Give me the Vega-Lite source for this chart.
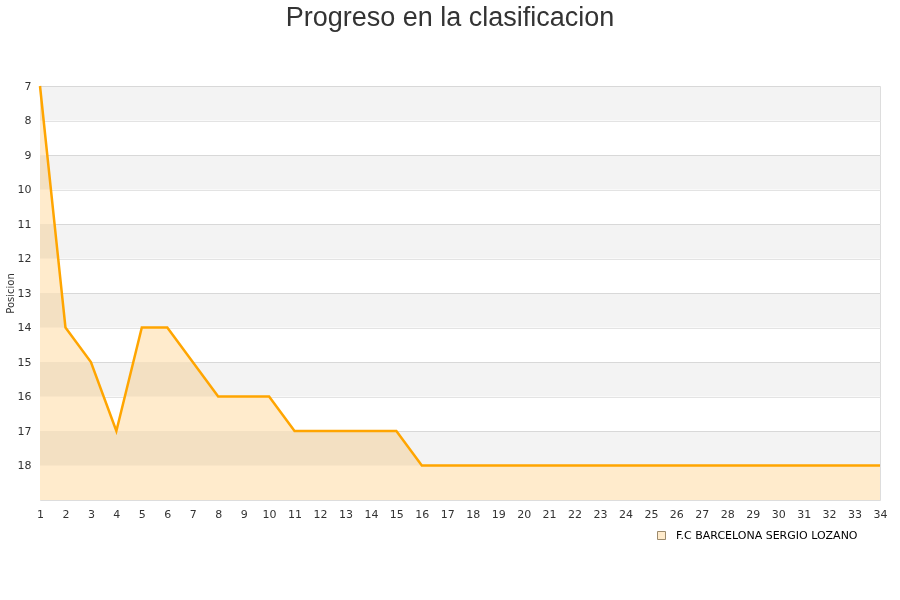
{
  "$schema": "https://vega.github.io/schema/vega-lite/v6.json",
  "autosize": "none",
  "width": 840,
  "height": 414,
  "padding": {"left": 40, "top": 86, "right": 20, "bottom": 100},
  "title": {
    "text": "Progreso en la clasificacion",
    "anchor": "middle",
    "font": "Liberation Sans",
    "fontSize": 27,
    "fontWeight": "normal",
    "color": "#333333",
    "offset": 48,
    "dx": -10
  },
  "config": {
    "view": {"stroke": "#dddddd"},
    "axis": {
      "labelFont": "DejaVu Sans",
      "labelFontSize": 11,
      "labelColor": "#333333",
      "titleFont": "DejaVu Sans",
      "titleFontWeight": "normal",
      "titleColor": "#333333",
      "ticks": false,
      "domain": false,
      "zindex": 1
    }
  },
  "datasets": {
    "bands": [
      {"desde": 7, "hasta": 8},
      {"desde": 9, "hasta": 10},
      {"desde": 11, "hasta": 12},
      {"desde": 13, "hasta": 14},
      {"desde": 15, "hasta": 16},
      {"desde": 17, "hasta": 18}
    ],
    "jornadas": [
      {"jornada": 1, "posicion": 7, "equipo": "F.C BARCELONA SERGIO LOZANO"},
      {"jornada": 2, "posicion": 14, "equipo": "F.C BARCELONA SERGIO LOZANO"},
      {"jornada": 3, "posicion": 15, "equipo": "F.C BARCELONA SERGIO LOZANO"},
      {"jornada": 4, "posicion": 17, "equipo": "F.C BARCELONA SERGIO LOZANO"},
      {"jornada": 5, "posicion": 14, "equipo": "F.C BARCELONA SERGIO LOZANO"},
      {"jornada": 6, "posicion": 14, "equipo": "F.C BARCELONA SERGIO LOZANO"},
      {"jornada": 7, "posicion": 15, "equipo": "F.C BARCELONA SERGIO LOZANO"},
      {"jornada": 8, "posicion": 16, "equipo": "F.C BARCELONA SERGIO LOZANO"},
      {"jornada": 9, "posicion": 16, "equipo": "F.C BARCELONA SERGIO LOZANO"},
      {"jornada": 10, "posicion": 16, "equipo": "F.C BARCELONA SERGIO LOZANO"},
      {"jornada": 11, "posicion": 17, "equipo": "F.C BARCELONA SERGIO LOZANO"},
      {"jornada": 12, "posicion": 17, "equipo": "F.C BARCELONA SERGIO LOZANO"},
      {"jornada": 13, "posicion": 17, "equipo": "F.C BARCELONA SERGIO LOZANO"},
      {"jornada": 14, "posicion": 17, "equipo": "F.C BARCELONA SERGIO LOZANO"},
      {"jornada": 15, "posicion": 17, "equipo": "F.C BARCELONA SERGIO LOZANO"},
      {"jornada": 16, "posicion": 18, "equipo": "F.C BARCELONA SERGIO LOZANO"},
      {"jornada": 17, "posicion": 18, "equipo": "F.C BARCELONA SERGIO LOZANO"},
      {"jornada": 18, "posicion": 18, "equipo": "F.C BARCELONA SERGIO LOZANO"},
      {"jornada": 19, "posicion": 18, "equipo": "F.C BARCELONA SERGIO LOZANO"},
      {"jornada": 20, "posicion": 18, "equipo": "F.C BARCELONA SERGIO LOZANO"},
      {"jornada": 21, "posicion": 18, "equipo": "F.C BARCELONA SERGIO LOZANO"},
      {"jornada": 22, "posicion": 18, "equipo": "F.C BARCELONA SERGIO LOZANO"},
      {"jornada": 23, "posicion": 18, "equipo": "F.C BARCELONA SERGIO LOZANO"},
      {"jornada": 24, "posicion": 18, "equipo": "F.C BARCELONA SERGIO LOZANO"},
      {"jornada": 25, "posicion": 18, "equipo": "F.C BARCELONA SERGIO LOZANO"},
      {"jornada": 26, "posicion": 18, "equipo": "F.C BARCELONA SERGIO LOZANO"},
      {"jornada": 27, "posicion": 18, "equipo": "F.C BARCELONA SERGIO LOZANO"},
      {"jornada": 28, "posicion": 18, "equipo": "F.C BARCELONA SERGIO LOZANO"},
      {"jornada": 29, "posicion": 18, "equipo": "F.C BARCELONA SERGIO LOZANO"},
      {"jornada": 30, "posicion": 18, "equipo": "F.C BARCELONA SERGIO LOZANO"},
      {"jornada": 31, "posicion": 18, "equipo": "F.C BARCELONA SERGIO LOZANO"},
      {"jornada": 32, "posicion": 18, "equipo": "F.C BARCELONA SERGIO LOZANO"},
      {"jornada": 33, "posicion": 18, "equipo": "F.C BARCELONA SERGIO LOZANO"},
      {"jornada": 34, "posicion": 18, "equipo": "F.C BARCELONA SERGIO LOZANO"}
    ]
  },
  "layer": [
    {
      "data": {"name": "jornadas"},
      "mark": {"type": "area", "interpolate": "linear"},
      "encoding": {
        "x": {
          "field": "jornada",
          "type": "quantitative",
          "scale": {"domain": [1, 34], "nice": false, "zero": false},
          "axis": {
            "title": null,
            "values": [1, 2, 3, 4, 5, 6, 7, 8, 9, 10, 11, 12, 13, 14, 15, 16, 17, 18, 19, 20, 21, 22, 23, 24, 25, 26, 27, 28, 29, 30, 31, 32, 33, 34],
            "tickCount": 40,
            "format": "d",
            "labelOverlap": false,
            "labelFlush": false,
            "grid": false,
            "labelPadding": 8
          }
        },
        "y": {
          "field": "posicion",
          "type": "quantitative",
          "scale": {"domain": [7, 19], "reverse": true, "nice": false, "zero": false},
          "axis": {
            "title": "Posicion",
            "titleFontSize": 10,
            "titlePadding": 2,
            "values": [7, 8, 9, 10, 11, 12, 13, 14, 15, 16, 17, 18],
            "tickCount": 20,
            "format": "d",
            "labelOverlap": false,
            "labelFlush": false,
            "gridColor": "#e3e3e3",
            "labelPadding": 9
          }
        },
        "y2": {"datum": 19},
        "color": {
          "field": "equipo",
          "type": "nominal",
          "scale": {"range": ["#FFEBCC"]},
          "legend": {
            "title": null,
            "orient": "none",
            "legendX": 616,
            "legendY": 444,
            "symbolType": "square",
            "symbolSize": 64,
            "symbolStrokeColor": "#9c8a6c",
            "symbolStrokeWidth": 1,
            "labelOffset": 9,
            "labelLimit": 400,
            "labelFont": "DejaVu Sans",
            "labelFontSize": 11,
            "labelColor": "#000000"
          }
        }
      }
    },
    {
      "data": {"name": "bands"},
      "mark": {"type": "rect", "fill": "#f3f3f3", "blend": "multiply"},
      "encoding": {
        "y": {"field": "desde", "type": "quantitative"},
        "y2": {"field": "hasta"}
      }
    },
    {
      "data": {"name": "jornadas"},
      "mark": {"type": "line", "color": "#FFA500", "strokeWidth": 2.5},
      "encoding": {
        "x": {"field": "jornada", "type": "quantitative"},
        "y": {"field": "posicion", "type": "quantitative"}
      }
    }
  ]
}
